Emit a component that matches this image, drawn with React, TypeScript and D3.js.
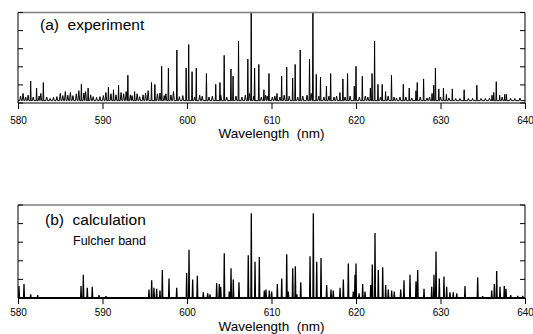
import { useEffect, useRef } from "react"
import * as d3 from "d3"

// (a) experiment: strong lines
const expWl = [581.5, 582.2, 583.0, 587.5, 588.3, 590.7, 591.3, 591.9, 593.0, 593.8, 595.8, 596.2, 597.0, 597.8, 598.8,
  599.9, 600.2, 600.6, 601.1, 602.3, 603.4, 603.9, 604.4, 605.2, 605.45, 606.1, 607.2, 607.6, 608.0, 608.5, 609.1, 609.7,
  610.65, 611.2, 611.8, 612.5, 612.8, 613.4, 614.5, 614.9, 615.3, 615.8, 616.5, 617.0, 618.1, 618.45, 619.0, 619.8, 620.0,
  620.75, 621.7, 621.9, 622.2, 622.6, 623.1, 623.5, 624.2, 625.6, 626.3, 627.1, 627.25, 628.0, 629.0, 629.2, 629.4, 629.8,
  630.35, 630.7, 631.4, 632.8, 634.3, 636.1, 636.3, 636.6, 637.0, 637.6, 637.8];
const expInt = [1.08, 0.7, 1.0, 0.9, 0.7, 0.75, 0.6, 0.85, 1.4, 0.5, 1.0, 0.9, 1.9, 1.8, 2.8,
  1.8, 3.1, 1.6, 1.8, 1.5, 0.9, 1.0, 2.5, 1.75, 1.35, 3.3, 2.3, 5.3, 1.8, 2.0, 0.6, 1.5,
  0.4, 1.35, 1.85, 1.25, 2.0, 2.8, 2.3, 5.3, 1.45, 1.3, 0.8, 1.5, 0.45, 1.2, 1.5, 0.8, 1.9,
  1.35, 0.7, 1.5, 3.3, 0.9, 0.9, 0.5, 1.4, 0.9, 0.7, 0.55, 1.0, 1.2, 0.4, 0.85, 1.8, 0.65,
  0.7, 0.35, 0.65, 0.6, 0.85, 0.3, 0.45, 1.05, 0.3, 0.35, 0.35];

// (a) experiment: weak lines / background structure
const expWeakWl = [580.3, 580.6, 580.9, 581.2, 581.8, 582.5, 582.7, 583.4, 583.8, 584.2, 584.6, 585.0, 585.3, 585.6, 585.9,
  586.2, 586.5, 586.9, 587.2, 587.8, 588.0, 588.6, 588.9, 589.3, 589.7, 590.1, 590.4, 591.0, 591.6, 592.2, 592.5, 592.8,
  593.3, 593.5, 594.1, 594.4, 594.8, 595.1, 595.4, 596.5, 596.8, 597.3, 597.5, 598.1, 598.4, 599.1, 599.5, 600.9, 601.5,
  601.8, 602.6, 603.0, 604.0, 604.7, 605.8, 606.5, 606.9, 607.4, 607.9, 608.8, 609.3, 609.5, 610.1, 610.4, 611.0, 611.5,
  612.1, 613.1, 613.7, 614.2, 614.7, 615.6, 616.2, 616.8, 617.4, 617.7, 618.7, 619.3, 620.4, 621.1, 621.4, 622.9, 623.8,
  624.5, 624.8, 625.2, 625.9, 626.6, 627.6, 628.4, 628.7, 630.0, 631.0, 631.8, 632.3, 633.3, 633.8, 634.8, 635.3, 635.8,
  637.3, 638.3, 638.8, 639.4];
const expWeakInt = [0.25, 0.4, 0.2, 0.3, 0.2, 0.25, 0.4, 0.2, 0.12, 0.18, 0.22, 0.4, 0.28, 0.5, 0.3,
  0.45, 0.28, 0.38, 0.55, 0.42, 0.5, 0.32, 0.22, 0.18, 0.22, 0.28, 0.45, 0.38, 0.32, 0.45, 0.38, 0.5,
  0.32, 0.28, 0.38, 0.22, 0.32, 0.42, 0.55, 0.38, 0.42, 0.28, 0.38, 0.32, 0.5, 0.22, 0.28, 0.2, 0.3,
  0.25, 0.2, 0.25, 0.3, 0.2, 0.25, 0.2, 0.3, 0.4, 0.25, 0.2, 0.3, 0.25, 0.2, 0.25, 0.2, 0.3,
  0.25, 0.2, 0.25, 0.3, 0.4, 0.25, 0.2, 0.25, 0.2, 0.25, 0.2, 0.25, 0.2, 0.25, 0.2, 0.2, 0.25,
  0.2, 0.15, 0.2, 0.2, 0.15, 0.2, 0.15, 0.2, 0.2, 0.15, 0.12, 0.12, 0.12, 0.12, 0.12, 0.12, 0.15,
  0.2, 0.12, 0.12, 0.14];
const expBackground = 0.13;

// (b) calculation, Fulcher band
const calcWl = [580.12, 580.71, 581.5, 582.33, 587.46, 587.73, 588.2, 588.79, 589.59, 590.41, 595.5, 595.82, 596.09, 596.41,
  596.8, 597.08, 597.87, 598.78, 599.96, 600.24, 600.67, 601.22, 601.93, 602.45, 602.72, 603.51, 603.82, 603.99, 604.41,
  605.0, 605.21, 605.48, 606.15, 607.25, 607.61, 608.05, 608.56, 609.15, 609.35, 609.74, 610.02, 610.69, 611.21, 611.8,
  611.99, 612.51, 612.82, 613.0, 613.46, 614.56, 614.95, 615.35, 615.86, 616.53, 617.04, 617.31, 618.11, 618.5, 619.09,
  619.68, 619.88, 620.0, 620.36, 620.79, 621.07, 621.74, 621.93, 622.25, 622.64, 623.16, 623.51, 623.82, 624.22, 624.53,
  625.29, 625.68, 626.39, 627.1, 627.3, 628.05, 628.96, 629.23, 629.47, 629.86, 630.41, 630.73, 631.12, 631.51, 631.92,
  632.9, 634.4, 634.99, 636.06, 636.37, 636.65, 637.04, 637.55, 637.75, 638.31, 639.14, 639.73];
const calcInt = [0.65, 0.75, 0.2, 0.15, 0.65, 1.25, 0.55, 0.6, 0.15, 0.1, 0.45, 0.95, 0.55, 0.5,
  0.4, 1.5, 1.05, 0.55, 1.35, 2.6, 1.0, 1.2, 0.3, 0.25, 0.2, 0.8, 0.75, 0.6, 2.4,
  0.35, 1.6, 1.0, 0.85, 2.3, 4.55, 1.95, 2.2, 0.4, 0.45, 0.4, 0.35, 0.75, 1.05, 2.35,
  0.35, 1.6, 1.7, 0.2, 0.85, 2.25, 4.55, 1.95, 2.15, 0.7, 0.45, 0.4, 0.55, 1.0, 1.85,
  0.35, 1.25, 1.85, 0.25, 0.75, 0.35, 0.7, 1.8, 3.5, 1.5, 1.65, 0.7, 0.45, 0.4, 0.35,
  0.45, 0.95, 1.25, 0.9, 1.5, 0.5, 0.6, 1.25, 2.5, 1.05, 1.15, 0.6, 0.3, 0.3, 0.25,
  0.65, 1.1, 0.1, 0.4, 0.75, 1.45, 0.6, 0.65, 0.5, 0.15, 0.12, 0.12];

const xTicks = [580, 590, 600, 610, 620, 630, 640];
const yTicks = [0, 1, 2, 3, 4, 5];

const W = 533;
const H = 334;
const FONT = "'Liberation Sans', Arial, Helvetica, sans-serif";

type Line = { wl: number; v: number; hw: number };

export default function App() {
  const ref = useRef<SVGSVGElement>(null);

  useEffect(() => {
    if (!ref.current) return;
    const svg = d3.select(ref.current);
    svg.selectAll("*").remove();

    const x = d3.scaleLinear().domain([580, 640]).range([18, 525]);

    const toLines = (wl: number[], val: number[], hw: number): Line[] =>
      wl.map((w, i) => ({ wl: w, v: val[i], hw }));

    // stick spectrum -> polyline of narrow triangles on a flat background
    const spectrum = (lines: Line[], base: number) => {
      const pts: [number, number][] = [[580, base]];
      lines.slice().sort((a, b) => a.wl - b.wl).forEach(l => {
        pts.push([l.wl - l.hw, base]);
        pts.push([l.wl, base + l.v]);
        pts.push([l.wl + l.hw, base]);
      });
      pts.push([640, base]);
      return pts;
    };

    const drawPanel = (
      id: string,
      top: number,
      bottom: number,
      pts: [number, number][],
      lineWidth: number,
      baseWidth: number,
      tickPad: number,
      titleGap: number,
      title: string,
      titleX: number,
      titleY: number
    ) => {
      const y = d3.scaleLinear().domain([0, 5]).range([bottom, top]);
      const g = svg.append("g");

      g.append("clipPath").attr("id", id)
        .append("rect")
        .attr("x", x(580)).attr("y", top)
        .attr("width", x(640) - x(580)).attr("height", bottom - top);

      const line = d3.line<[number, number]>()
        .x(d => x(d[0]))
        .y(d => y(d[1]));

      g.append("path")
        .attr("clip-path", `url(#${id})`)
        .attr("d", line(pts) || "")
        .attr("fill", "none")
        .attr("stroke", "#000")
        .attr("stroke-width", lineWidth);

      // frame: grey top, black sides
      g.append("line")
        .attr("x1", x(580)).attr("x2", x(640))
        .attr("y1", top).attr("y2", top)
        .attr("stroke", "#808080").attr("stroke-width", 1.5);
      g.append("line")
        .attr("x1", x(580)).attr("x2", x(580))
        .attr("y1", top).attr("y2", bottom)
        .attr("stroke", "#000").attr("stroke-width", 1);
      g.append("line")
        .attr("x1", x(640)).attr("x2", x(640))
        .attr("y1", top).attr("y2", bottom)
        .attr("stroke", "#000").attr("stroke-width", 1);

      // inward y ticks, no labels
      yTicks.forEach(t => {
        g.append("line")
          .attr("x1", x(580)).attr("x2", x(580) + 5)
          .attr("y1", y(t)).attr("y2", y(t))
          .attr("stroke", "#000").attr("stroke-width", 1);
        g.append("line")
          .attr("x1", x(640)).attr("x2", x(640) - 5)
          .attr("y1", y(t)).attr("y2", y(t))
          .attr("stroke", "#000").attr("stroke-width", 1);
      });

      // bottom axis
      const axis = g.append("g")
        .attr("transform", `translate(0,${bottom})`)
        .call(d3.axisBottom(x).tickValues(xTicks).tickSize(6).tickPadding(tickPad).tickFormat(d3.format("d")));
      axis.select(".domain").remove();
      axis.selectAll(".tick line").attr("stroke", "#000");
      axis.selectAll(".tick text")
        .attr("font-family", FONT)
        .attr("font-size", 10)
        .attr("fill", "#000");
      g.append("line")
        .attr("x1", x(580)).attr("x2", x(640))
        .attr("y1", bottom).attr("y2", bottom)
        .attr("stroke", "#000").attr("stroke-width", baseWidth);

      g.append("text")
        .attr("x", x(610))
        .attr("y", bottom + titleGap)
        .attr("text-anchor", "middle")
        .attr("font-family", FONT)
        .attr("font-size", 13.5)
        .style("white-space", "pre")
        .text("Wavelength  (nm)");

      g.append("text")
        .attr("x", titleX)
        .attr("y", titleY)
        .attr("font-family", FONT)
        .attr("font-size", 15.5)
        .style("white-space", "pre")
        .text(title);

      return y;
    };

    const expLines = toLines(expWl, expInt, 0.05).concat(toLines(expWeakWl, expWeakInt, 0.1));
    drawPanel("clipA", 12.5, 103, spectrum(expLines, expBackground), 1, 1, 8, 35, "(a)  experiment", 40, 30);

    drawPanel("clipB", 205, 298, spectrum(toLines(calcWl, calcInt, 0.05), 0), 1.3, 2.2, 5, 32.5, "(b)  calculation", 45, 224.5);

    svg.append("text")
      .attr("x", 73)
      .attr("y", 244.5)
      .attr("font-family", FONT)
      .attr("font-size", 12.5)
      .text("Fulcher band");
  }, []);

  return (
    <svg
      ref={ref}
      width={W}
      height={H}
      style={{ position: "absolute", left: 0, top: 0, background: "#fff" }}
    />
  );
}
